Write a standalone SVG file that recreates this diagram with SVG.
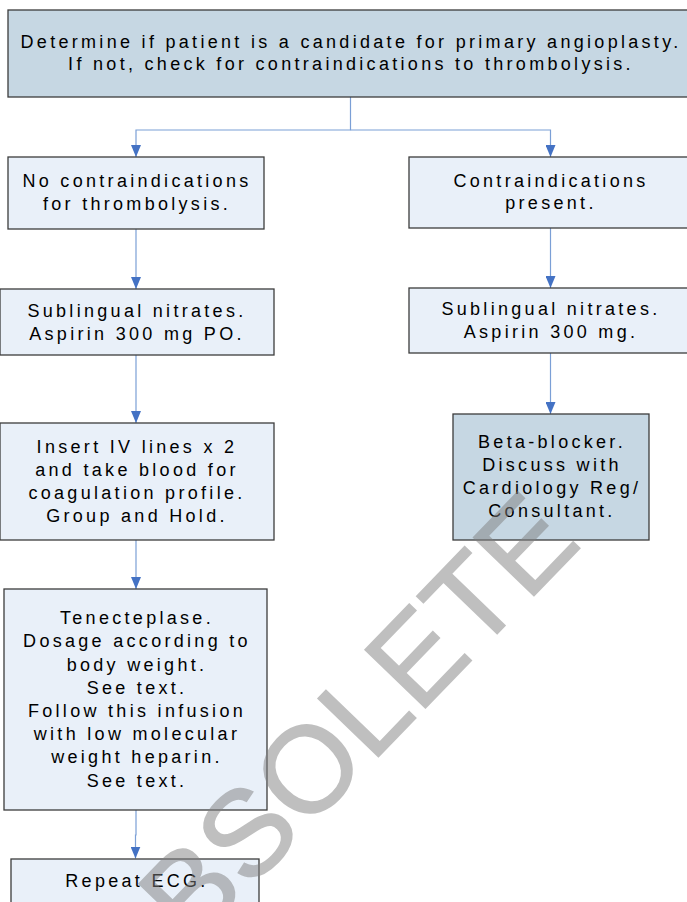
<svg xmlns="http://www.w3.org/2000/svg" width="687" height="902" viewBox="0 0 687 902">
  <defs>
    <style>
      .box { stroke: #3c3c3c; stroke-width: 1.3; }
      .dark { fill: #c6d7e3; }
      .light { fill: #e9f0f9; }
      .lbl { font-family: "Liberation Sans", Arial, sans-serif; font-size: 18px; letter-spacing: 3.3px; fill: #000; text-anchor: middle; }
      .conn { fill: none; stroke: #7b9fd6; stroke-width: 1.2; }
      .stamp { font-family: "Liberation Sans", Arial, sans-serif; font-size: 122px; fill: #808080; stroke: #808080; stroke-width: 1.5; text-anchor: middle; }
    </style>
    <marker id="arrow" viewBox="0 0 12 10" refX="12" refY="5" markerWidth="12" markerHeight="10" markerUnits="userSpaceOnUse" orient="auto">
      <path d="M0,0 L12,5 L0,10 Z" fill="#4472c4"/>
    </marker>
  </defs>

  <rect width="687" height="902" fill="#ffffff"/>

  <!-- connectors -->
  <g id="connectors">
    <polyline class="conn" points="350.5,97 350.5,130 136,130 136,157" marker-end="url(#arrow)"/>
    <polyline class="conn" points="350.5,130 550.5,130 550.5,157" marker-end="url(#arrow)"/>
    <line class="conn" x1="136" y1="229" x2="136" y2="289" marker-end="url(#arrow)"/>
    <line class="conn" x1="550.5" y1="228" x2="550.5" y2="288" marker-end="url(#arrow)"/>
    <line class="conn" x1="136" y1="355" x2="136" y2="423" marker-end="url(#arrow)"/>
    <line class="conn" x1="550.5" y1="353" x2="550.5" y2="414" marker-end="url(#arrow)"/>
    <line class="conn" x1="136" y1="540" x2="136" y2="589" marker-end="url(#arrow)"/>
    <polyline class="conn" points="136,810 136,835 135.5,835 135.5,858.5" marker-end="url(#arrow)"/>
  </g>

  <!-- nodes -->
  <g id="start">
    <rect class="box dark" x="8" y="10" width="690" height="87"/>
    <text class="lbl" x="351" y="48">Determine if patient is a candidate for primary angioplasty.</text>
    <text class="lbl" x="351" y="70">If not, check for contraindications to thrombolysis.</text>
  </g>

  <g id="no-contra">
    <rect class="box light" x="8" y="157" width="256" height="72"/>
    <text class="lbl" x="137" y="187">No contraindications</text>
    <text class="lbl" x="137" y="210">for thrombolysis.</text>
  </g>

  <g id="contra">
    <rect class="box light" x="409" y="157" width="290" height="71"/>
    <text class="lbl" x="551" y="187">Contraindications</text>
    <text class="lbl" x="551" y="209">present.</text>
  </g>

  <g id="nitrates-left">
    <rect class="box light" x="0" y="289" width="274" height="66"/>
    <text class="lbl" x="137" y="317">Sublingual nitrates.</text>
    <text class="lbl" x="137" y="340">Aspirin 300 mg PO.</text>
  </g>

  <g id="nitrates-right">
    <rect class="box light" x="409" y="288" width="290" height="65"/>
    <text class="lbl" x="551" y="315">Sublingual nitrates.</text>
    <text class="lbl" x="551" y="338">Aspirin 300 mg.</text>
  </g>

  <g id="beta-blocker">
    <rect class="box dark" x="453" y="414" width="196" height="126"/>
    <text class="lbl" x="552" y="448">Beta-blocker.</text>
    <text class="lbl" x="552" y="471">Discuss with</text>
    <text class="lbl" x="552" y="494">Cardiology Reg/</text>
    <text class="lbl" x="552" y="517">Consultant.</text>
  </g>

  <g id="iv-lines">
    <rect class="box light" x="0" y="423" width="274" height="117"/>
    <text class="lbl" x="137" y="453">Insert IV lines x 2</text>
    <text class="lbl" x="137" y="476">and take blood for</text>
    <text class="lbl" x="137" y="499">coagulation profile.</text>
    <text class="lbl" x="137" y="522">Group and Hold.</text>
  </g>

  <g id="tenecteplase">
    <rect class="box light" x="4" y="589" width="263" height="221"/>
    <text class="lbl" x="137" y="624">Tenecteplase.</text>
    <text class="lbl" x="137" y="647">Dosage according to</text>
    <text class="lbl" x="137" y="671">body weight.</text>
    <text class="lbl" x="137" y="694">See text.</text>
    <text class="lbl" x="137" y="717">Follow this infusion</text>
    <text class="lbl" x="137" y="740">with low molecular</text>
    <text class="lbl" x="137" y="763">weight heparin.</text>
    <text class="lbl" x="137" y="787">See text.</text>
  </g>

  <g id="repeat-ecg">
    <rect class="box light" x="11" y="859" width="248" height="60"/>
    <text class="lbl" x="137" y="887">Repeat ECG.</text>
  </g>

  <!-- status stamp across the sheet -->
  <g opacity="0.5">
    <text class="stamp" transform="translate(355,781) rotate(-46)">OBSOLETE</text>
  </g>
</svg>
